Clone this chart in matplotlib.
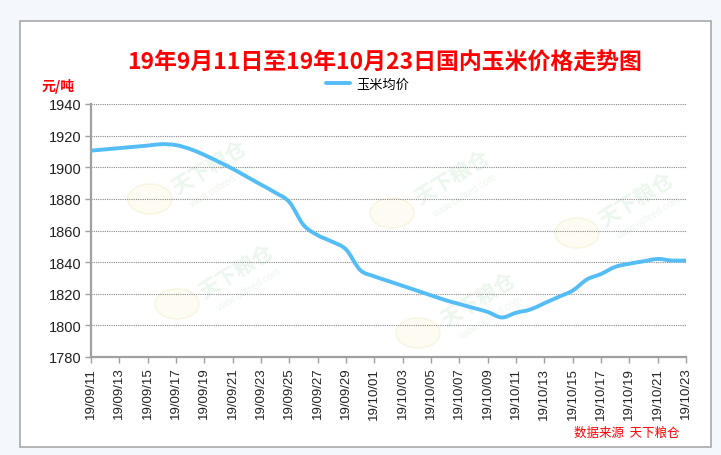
import numpy as np
import pandas as pd
import matplotlib
matplotlib.use("Agg")
import matplotlib.pyplot as plt
from matplotlib.patches import Rectangle, Ellipse, PathPatch
from matplotlib.path import Path
from matplotlib.lines import Line2D

# data (daily average corn price, yuan/ton)
dates = pd.date_range("2019-09-11", "2019-10-23", freq="D")
prices = [1910.5, 1911.3, 1912.1, 1912.9, 1913.7, 1914.6, 1914.0, 1911.5, 1907.8, 1903.5,
          1899.0, 1894.0, 1889.0, 1884.0, 1878.0, 1863.5, 1857.0, 1853.0, 1848.0, 1835.0,
          1831.0, 1828.0, 1825.0, 1822.0, 1819.0, 1816.0, 1813.5, 1811.0, 1808.5, 1805.0,
          1808.0, 1810.0, 1814.0, 1818.0, 1822.0, 1829.0, 1832.5, 1837.0, 1839.0, 1840.5,
          1842.0, 1841.0, 1841.0]
yticks = list(range(1780, 1941, 20))
xtick_labels = [d.strftime("%y/%m/%d") for d in dates[::2]]

title = "19年9月11日至19年10月23日国内玉米价格走势图"
series_name = "玉米均价"
unit = "元/吨"
source = "数据来源  天下粮仓"

cjk = ["Noto Sans CJK SC", "DejaVu Sans"]
latin = ["Liberation Sans", "DejaVu Sans"]
red = "#ff0000"
blue = "#55bdf5"

W, H = 721, 456
fig = plt.figure(figsize=(W / 100, H / 100), dpi=100)
fig.patch.set_facecolor("#f4f8fc")
# white chart panel
fig.patches.append(Rectangle((20 / W, 1 - 448 / H), 691 / W, 426 / H, transform=fig.transFigure,
                             facecolor="white", edgecolor="#a8a8a8", lw=1.2, zorder=-2))

ax = fig.add_axes([91 / W, 1 - 358 / H, 595 / W, 253 / H])
ax.set_facecolor("none")
ax.set_zorder(2)

x = np.arange(len(dates))
y = np.array(prices)

# faint watermarks
wm_text = [(209, 168), (452, 178), (636, 200), (236, 272), (478, 300)]
wm_logo = [(150, 200), (392, 214), (577, 234), (177, 305), (418, 334)]
for px, py in wm_text:
    fig.text(px / W, 1 - py / H, "天下粮仓", family=cjk, fontsize=15, fontweight="bold",
             color="#ebf6ed", rotation=32, ha="center", va="center", zorder=-1)
    fig.text((px + 12) / W, 1 - (py + 18) / H, "www.cofeed.com", family=latin, fontsize=7,
             color="#ebf6ed", rotation=32, ha="center", va="center", zorder=-1)
for px, py in wm_logo:
    fig.patches.append(Ellipse((px / W, 1 - py / H), 44 / W, 30 / H, transform=fig.transFigure,
                               facecolor="#fefcf2", edgecolor="#f8f4e0", lw=1, zorder=-1))

# smoothed line like excel: cubic bezier through the daily points
verts = [(x[0], y[0])]
codes = [Path.MOVETO]
n = len(x)
for i in range(n - 1):
    p0 = np.array([x[max(i - 1, 0)], y[max(i - 1, 0)]])
    p1 = np.array([x[i], y[i]])
    p2 = np.array([x[i + 1], y[i + 1]])
    p3 = np.array([x[min(i + 2, n - 1)], y[min(i + 2, n - 1)]])
    c1 = p1 + (p2 - p0) / 6
    c2 = p2 - (p3 - p1) / 6
    verts += [tuple(c1), tuple(c2), tuple(p2)]
    codes += [Path.CURVE4] * 3
ax.add_patch(PathPatch(Path(verts, codes), facecolor="none", edgecolor=blue, lw=2.8,
                       joinstyle="round", capstyle="round", zorder=3))

ax.set_xlim(0, n - 1)
ax.set_ylim(1780, 1940)
ax.set_yticks(yticks)
ax.set_yticklabels([str(v) for v in yticks], family=latin, fontsize=10.5, color="#222222")
ax.set_xticks(x[::2])
ax.set_xticklabels(xtick_labels, rotation=90, family=latin, fontsize=9.5, color="#222222")
ax.grid(axis="y", linestyle=(0, (1, 1)), color="#888888", lw=0.8)
ax.set_axisbelow(True)

for s in ["top", "right"]:
    ax.spines[s].set_visible(False)
ax.spines["left"].set_color("#a0a0a0")
ax.spines["left"].set_linewidth(1.6)
ax.spines["bottom"].set_color("#a0a0a0")
ax.spines["bottom"].set_linewidth(1.6)
ax.tick_params(axis="both", direction="out", length=4, color="#a0a0a0", width=1, pad=3)

fig.text(385 / W, 1 - 63 / H, title, family=cjk, fontsize=16.5, fontweight="bold",
         color=red, ha="center", va="center")
fig.text(42 / W, 1 - 86 / H, unit, family=cjk, fontsize=10, fontweight="bold",
         color=red, ha="left", va="center")
fig.text(680 / W, 1 - 433 / H, source, family=cjk, fontsize=9, style="italic",
         color=red, ha="right", va="center")

handle = Line2D([], [], color=blue, lw=2.8, solid_capstyle="round")
fig.legend([handle], [series_name], loc="center", bbox_to_anchor=(368 / W, 1 - 85 / H),
           frameon=False, prop={"family": cjk, "size": 9.5}, handlelength=1.8, handletextpad=0.5)

fig.savefig("out.png", dpi=100)
